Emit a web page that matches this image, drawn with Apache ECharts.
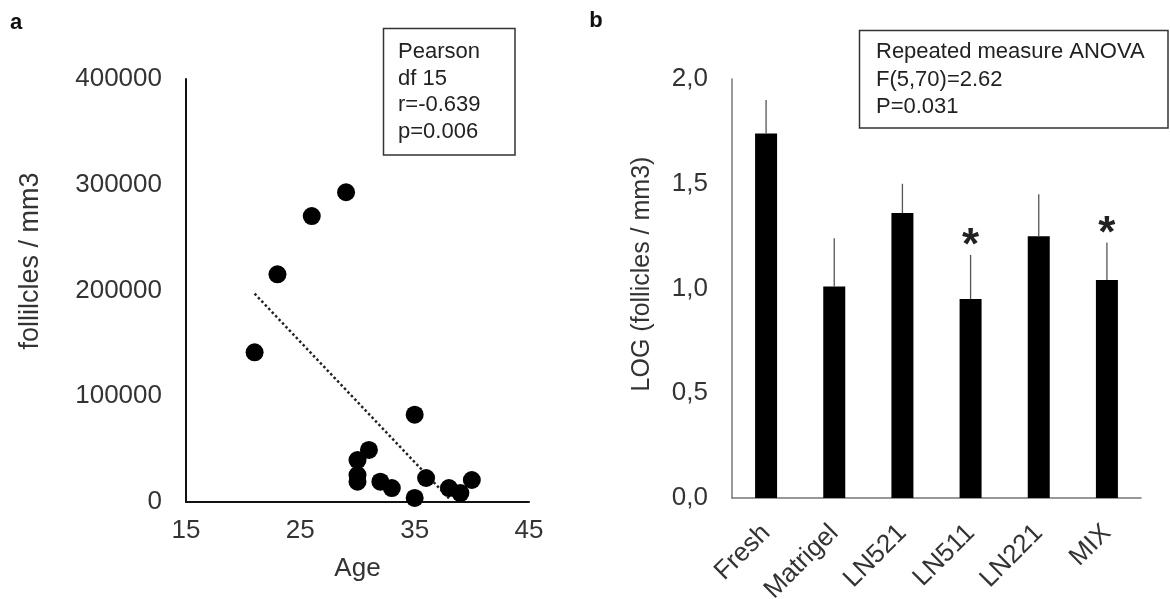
<!DOCTYPE html>
<html>
<head>
<meta charset="utf-8">
<script src="https://cdn.jsdelivr.net/npm/echarts@6/dist/echarts.min.js"></script>
<style>
  html, body { margin: 0; padding: 0; background: #fff; }
  #chart { width: 1170px; height: 599px; }
</style>
</head>
<body>
<div id="chart"></div>
<script>
// panel a: age vs follicle density
const ages = [21, 23, 26, 29, 30, 30, 30, 31, 32, 33, 35, 35, 36, 38, 39, 40];
const follicles = [141500, 215300, 270400, 292900, 39700, 25500, 19200, 49200, 19200, 13200, 82600, 3800, 22700, 13200, 8500, 20800];
const trendAges = [21, 38];
const trendValues = [197000, 3500];
const yTicksA = ["0", "100000", "200000", "300000", "400000"];
const pearsonLines = ["Pearson", "df 15", "r=-0.639", "p=0.006"];

// panel b: log follicle density per condition
const conditions = ["Fresh", "Matrigel", "LN521", "LN511", "LN221", "MIX"];
const logMeans = [1.74, 1.01, 1.36, 0.95, 1.25, 1.04];
const logErrors = [0.16, 0.23, 0.14, 0.21, 0.20, 0.18];
const signif = ["", "", "", "*", "", "*"];
const yTicksB = ["0,0", "0,5", "1,0", "1,5", "2,0"];
const anovaLines = ["Repeated measure ANOVA", "F(5,70)=2.62", "P=0.031"];

const font = "Liberation Sans, Arial, sans-serif";
const textColor = "#333";

const chart = echarts.init(document.getElementById("chart"), null, { renderer: "canvas" });

function boxTexts(lines, x, y0, step) {
  return lines.map((t, i) => ({
    type: "text",
    x: x,
    y: y0 + i * step,
    style: { text: t, font: "22px " + font, fill: "#222", align: "left", verticalAlign: "middle" }
  }));
}

const option = {
  animation: false,
  backgroundColor: "#fff",
  textStyle: { fontFamily: font },
  grid: [
    { left: 186, right: 641, top: 79, bottom: 97, outerBoundsMode: "none" },
    { left: 732, right: 29, top: 79, bottom: 101, outerBoundsMode: "none" }
  ],
  xAxis: [
    {
      type: "value",
      gridIndex: 0,
      min: 15,
      max: 45,
      interval: 10,
      name: "Age",
      nameLocation: "middle",
      nameGap: 54,
      nameTextStyle: { fontSize: 26, color: textColor, fontFamily: font },
      axisLine: { lineStyle: { color: "#111", width: 2 } },
      axisTick: { show: false },
      splitLine: { show: false },
      axisLabel: { fontSize: 26, color: textColor, margin: 16, fontFamily: font }
    },
    {
      type: "category",
      gridIndex: 1,
      data: conditions,
      axisLine: { lineStyle: { color: "#777", width: 1.5 } },
      axisTick: { show: false },
      axisLabel: { fontSize: 26, color: textColor, rotate: 45, interval: 0, margin: 31, fontFamily: font }
    }
  ],
  yAxis: [
    {
      type: "value",
      gridIndex: 0,
      min: 0,
      max: 400000,
      interval: 100000,
      axisLine: { show: true, lineStyle: { color: "#111", width: 2 } },
      axisTick: { show: false },
      splitLine: { show: false },
      axisLabel: {
        fontSize: 26,
        color: textColor,
        margin: 24,
        fontFamily: font,
        formatter: (v) => yTicksA[Math.round(v / 100000)]
      }
    },
    {
      type: "value",
      gridIndex: 1,
      min: 0,
      max: 2,
      interval: 0.5,
      axisLine: { show: true, lineStyle: { color: "#777", width: 1.5 } },
      axisTick: { show: false },
      splitLine: { show: false },
      axisLabel: {
        fontSize: 26,
        color: textColor,
        margin: 24,
        fontFamily: font,
        formatter: (v) => yTicksB[Math.round(v / 0.5)]
      }
    }
  ],
  series: [
    {
      type: "scatter",
      xAxisIndex: 0,
      yAxisIndex: 0,
      symbolSize: 18,
      itemStyle: { color: "#000", opacity: 1 },
      data: ages.map((a, i) => [a, follicles[i]]),
      z: 3
    },
    {
      type: "line",
      xAxisIndex: 0,
      yAxisIndex: 0,
      symbol: "none",
      lineStyle: { color: "#222", width: 2.5, type: [2.5, 2.5] },
      data: trendAges.map((a, i) => [a, trendValues[i]]),
      z: 1
    },
    {
      type: "bar",
      xAxisIndex: 1,
      yAxisIndex: 1,
      barWidth: 22,
      itemStyle: { color: "#000" },
      data: logMeans
    },
    {
      type: "custom",
      xAxisIndex: 1,
      yAxisIndex: 1,
      data: logMeans.map((m, i) => [i, m, m + logErrors[i]]),
      renderItem: function (params, api) {
        const i = api.value(0);
        const base = api.coord([i, api.value(1)]);
        const top = api.coord([i, api.value(2)]);
        const children = [
          {
            type: "line",
            shape: { x1: base[0], y1: base[1], x2: top[0], y2: top[1] },
            style: { stroke: "#555", lineWidth: 1.3 }
          }
        ];
        if (signif[i]) {
          children.push({
            type: "text",
            x: top[0],
            y: top[1] - 8,
            style: {
              text: signif[i],
              font: "bold 44px " + font,
              fill: "#222",
              align: "center",
              verticalAlign: "middle"
            }
          });
        }
        return { type: "group", children: children };
      },
      z: 3
    }
  ],
  graphic: [
    { type: "text", x: 16, y: 23, style: { text: "a", font: "bold 22px " + font, fill: "#111", align: "center", verticalAlign: "middle" } },
    { type: "text", x: 596, y: 21, style: { text: "b", font: "bold 22px " + font, fill: "#111", align: "center", verticalAlign: "middle" } },
    {
      type: "text",
      x: 31,
      y: 261,
      rotation: Math.PI / 2,
      style: { text: "follilcles / mm3", font: "27px " + font, fill: textColor, align: "center", verticalAlign: "middle" }
    },
    {
      type: "text",
      x: 642,
      y: 274,
      rotation: Math.PI / 2,
      style: { text: "LOG (follicles / mm3)", font: "25px " + font, fill: textColor, align: "center", verticalAlign: "middle" }
    },
    {
      type: "rect",
      shape: { x: 383.5, y: 28.5, width: 131.5, height: 126.5 },
      style: { fill: "#fff", stroke: "#333", lineWidth: 1.5 }
    },
    ...boxTexts(pearsonLines, 398, 52, 26.7),
    {
      type: "rect",
      shape: { x: 859.5, y: 30.5, width: 308.5, height: 97.5 },
      style: { fill: "#fff", stroke: "#333", lineWidth: 1.5 }
    },
    ...boxTexts(anovaLines, 876, 52, 27.5)
  ]
};

chart.setOption(option);
</script>
</body>
</html>
